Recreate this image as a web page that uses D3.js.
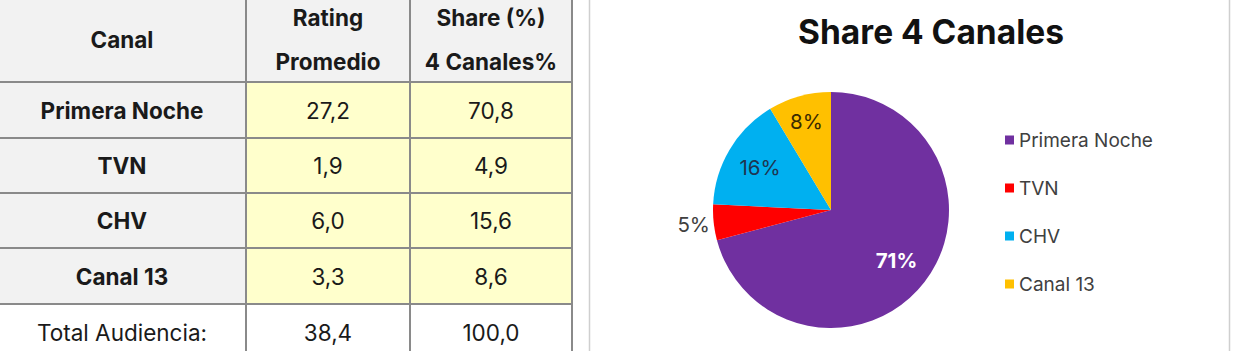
<!DOCTYPE html>
<html>
<head>
<meta charset="utf-8">
<script src="https://cdn.jsdelivr.net/npm/d3@7"></script>
<style>
  body { margin: 0; background: #fff; }
  svg { display: block; font-family: Inter, "Noto Sans", sans-serif; }
</style>
</head>
<body>
<svg id="chart" width="1235" height="351"></svg>
<script>
// data
const canales = ["Primera Noche", "TVN", "CHV", "Canal 13"];
const rating = [27.2, 1.9, 6.0, 3.3];
const share = [70.8, 4.9, 15.6, 8.6];
const pctLabels = ["71%", "5%", "16%", "8%"];
const totalRating = 38.4;
const totalShare = 100.0;
const colores = ["#7030a0", "#ff0000", "#00b0f0", "#ffc000"];

const svg = d3.select("#chart");
const fmt = v => v.toFixed(1).replace(".", ",");

// ---- table ----
const colX = [-2, 246, 410, 572];
const rowY = [0, 82, 138, 193, 248, 304, 360];
const lineCol = "#8a8a8a";

const tbl = svg.append("g");

// backgrounds
tbl.append("rect").attr("x", colX[0]).attr("y", rowY[0])
  .attr("width", colX[3] - colX[0]).attr("height", rowY[1] - rowY[0]).attr("fill", "#f2f2f2");
canales.forEach((c, i) => {
  tbl.append("rect").attr("x", colX[0]).attr("y", rowY[i + 1])
    .attr("width", colX[1] - colX[0]).attr("height", rowY[i + 2] - rowY[i + 1]).attr("fill", "#f2f2f2");
  tbl.append("rect").attr("x", colX[1]).attr("y", rowY[i + 1])
    .attr("width", colX[3] - colX[1]).attr("height", rowY[i + 2] - rowY[i + 1]).attr("fill", "#ffffcc");
});

// grid lines
rowY.slice(1, 6).forEach(y => {
  tbl.append("line").attr("x1", colX[0]).attr("x2", colX[3]).attr("y1", y).attr("y2", y)
    .attr("stroke", lineCol).attr("stroke-width", 2);
});
colX.slice(1).forEach(x => {
  tbl.append("line").attr("x1", x).attr("x2", x).attr("y1", 0).attr("y2", 351)
    .attr("stroke", lineCol).attr("stroke-width", 2);
});

const cx = i => (colX[i] + colX[i + 1]) / 2;
const cy = i => (rowY[i] + rowY[i + 1]) / 2;

function cell(x, y, txt, bold) {
  tbl.append("text").attr("x", x).attr("y", y)
    .attr("text-anchor", "middle").attr("dominant-baseline", "central")
    .attr("font-size", 22.5).attr("font-weight", bold ? 700 : 400)
    .attr("fill", "#1a1a1a").text(txt);
}

cell(cx(0), 39, "Canal", true);
cell(cx(1), 17, "Rating", true);
cell(cx(1), 61, "Promedio", true);
cell(cx(2), 17, "Share (%)", true);
cell(cx(2), 61, "4 Canales%", true);

canales.forEach((c, i) => {
  cell(cx(0), cy(i + 1), c, true);
  cell(cx(1), cy(i + 1), fmt(rating[i]), false);
  cell(cx(2), cy(i + 1), fmt(share[i]), false);
});
cell(cx(0), 332, "Total Audiencia:", false);
cell(cx(1), 332, fmt(totalRating), false);
cell(cx(2), 332, fmt(totalShare), false);

// ---- chart panel ----
svg.append("rect").attr("x", 589.5).attr("y", -2).attr("width", 640).attr("height", 360)
  .attr("fill", "#fff").attr("stroke", "#cfcfcf").attr("stroke-width", 1.5);

svg.append("text").attr("x", 931).attr("y", 44)
  .attr("text-anchor", "middle").attr("font-size", 33.5).attr("font-weight", 700)
  .attr("fill", "#111").text("Share 4 Canales");

const R = 118;
const center = [831, 210];
const pie = d3.pie().sort(null).value(d => d)(share);
const arc = d3.arc().innerRadius(0).outerRadius(R);

const g = svg.append("g").attr("transform", `translate(${center})`);
g.selectAll("path").data(pie).join("path")
  .attr("d", arc)
  .attr("fill", (d, i) => colores[i]);

const labelR = [0.7, 1.17, 0.7, 0.78];
const labelFill = ["#ffffff", "#404040", "#1f3550", "#3a2a00"];
g.selectAll("text.lbl").data(pie).join("text")
  .attr("class", "lbl")
  .attr("transform", (d, i) => {
    const r = R * labelR[i];
    const a = (d.startAngle + d.endAngle) / 2;
    return `translate(${r * Math.sin(a)},${-r * Math.cos(a)})`;
  })
  .attr("text-anchor", "middle").attr("dominant-baseline", "central")
  .attr("font-size", 20.5).attr("font-weight", (d, i) => i === 0 ? 700 : 400)
  .attr("fill", (d, i) => labelFill[i])
  .text((d, i) => pctLabels[i]);

// legend
const ly = d3.scalePoint().domain(canales).range([140, 284]);
const leg = svg.append("g").selectAll("g").data(canales).join("g")
  .attr("transform", d => `translate(1005,${ly(d)})`);
leg.append("rect").attr("x", 0).attr("y", -4.5).attr("width", 9).attr("height", 9)
  .attr("fill", (d, i) => colores[i]);
leg.append("text").attr("x", 14).attr("dominant-baseline", "central")
  .attr("font-size", 19).attr("fill", "#404040").text(d => d);
</script>
</body>
</html>
